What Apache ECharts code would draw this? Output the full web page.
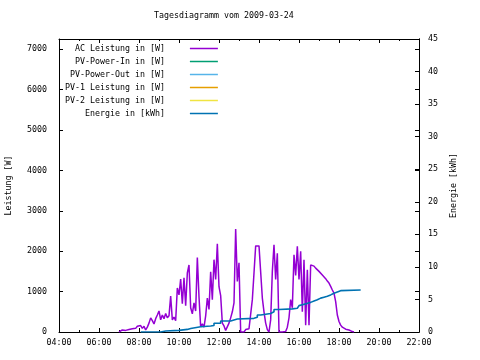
<!DOCTYPE html>
<html>
<head>
<meta charset="utf-8">
<script src="https://cdn.jsdelivr.net/npm/echarts@6/dist/echarts.min.js"></script>
<style>html,body{margin:0;padding:0;background:#fff;}#c{width:480px;height:360px;}</style>
</head>
<body>
<div id="c"></div>
<script>
const titleText = 'Tagesdiagramm vom 2009-03-24';
const seriesNames = ['AC Leistung in [W]', 'PV-Power-In in [W]', 'PV-Power-Out in [W]', 'PV-1 Leistung in [W]', 'PV-2 Leistung in [W]', 'Energie in [kWh]'];
const seriesColors = ['#9400d3', '#009e73', '#56b4e9', '#e69f00', '#f0e442', '#0072b2'];
const xTickLabels = ['04:00','06:00','08:00','10:00','12:00','14:00','16:00','18:00','20:00','22:00'];

const acTimes = ['07:00','07:05','07:10','07:15','07:20','07:25','07:30','07:35','07:40','07:45','07:50','07:55',
'08:00','08:05','08:10','08:15','08:20','08:25','08:30','08:35','08:40','08:45','08:50','08:55',
'09:00','09:05','09:10','09:15','09:20','09:25','09:30','09:35','09:40','09:45','09:50','09:55',
'10:00','10:05','10:10','10:15','10:20','10:25','10:30','10:35','10:40','10:45','10:50','10:55',
'11:00','11:05','11:10','11:15','11:20','11:25','11:30','11:35','11:40','11:45','11:50','11:55',
'12:00','12:05','12:10','12:15','12:20','12:25','12:30','12:35','12:40','12:45','12:50','12:55',
'13:00','13:05','13:10','13:15','13:20','13:25','13:30','13:35','13:40','13:45','13:50','13:55',
'14:00','14:05','14:10','14:15','14:20','14:25','14:30','14:35','14:40','14:45','14:50','14:55',
'15:00','15:05','15:10','15:15','15:20','15:25','15:30','15:35','15:40','15:45','15:50','15:55',
'16:00','16:05','16:10','16:15','16:20','16:25','16:30','16:35','16:40','16:45','16:50','16:55',
'17:00','17:05','17:10','17:15','17:20','17:25','17:30','17:35','17:40','17:45','17:50','17:55',
'18:00','18:05','18:10','18:15','18:20','18:25','18:30','18:35','18:40','18:45'];
const acPower = [0,20,50,30,40,70,60,100,80,120,90,140,
110,160,90,140,50,120,220,350,280,200,330,420,
520,300,420,330,460,350,400,890,300,370,280,1090,
920,1310,700,1340,650,1460,1660,600,450,720,520,1840,
870,130,200,120,400,840,560,1490,800,1790,1300,2180,
1120,900,220,150,40,0,220,350,500,720,2550,1250,
1710,0,30,0,60,20,80,120,800,1460,2130,2160,
2130,2160,840,500,220,60,0,300,1500,2160,1300,1950,
0,20,0,40,10,120,350,800,600,1910,1400,2120,
1300,2000,500,1790,170,1540,170,1660,1680,1630,1580,1540,
1500,1460,1410,1370,1320,1260,1210,1130,1040,960,750,420,
260,170,120,90,70,60,50,30,10,0];

const energyTimes = ['08:05','09:05','09:20','10:00','10:25','10:35','11:05','11:35','11:45','12:05','12:35','12:45','12:55',
'13:45','13:55','14:05','14:35','14:45','15:00','15:40','15:55','16:00','16:05','16:10','16:15','16:25','16:35','16:45','16:55',
'17:05','17:15','17:25','17:35','17:45','17:55','18:05','19:05'];
const energyKWh = [0,0.15,0.25,0.4,0.55,0.8,0.92,1.0,1.35,1.7,1.85,2.0,2.1,
2.25,2.6,2.85,3.1,3.45,3.55,3.65,3.8,4.05,4.2,4.3,4.4,4.55,4.75,4.95,5.2,
5.35,5.5,5.7,5.95,6.15,6.35,6.45,6.45];

function toHours(s){ const p = s.split(':'); return +p[0] + (+p[1])/60; }

const FONT = 'DejaVu Sans Mono';
const FS = 8.3;
const txt = {color:'#000', fontFamily: FONT, fontSize: FS};

const chart = echarts.init(document.getElementById('c'), null, {renderer:'canvas'});

function xAxisCfg(pos, showLabel){
  return {
    type:'value', min:4, max:22, interval:2, position:pos,
    axisLine:{show:true, onZero:false, lineStyle:{color:'#000', width:1}},
    axisTick:{show:true, inside:true, length:4, lineStyle:{color:'#000'}},
    minorTick:{show:true, splitNumber:2, length:2, lineStyle:{color:'#000'}},
    splitLine:{show:false},
    axisLabel:{show:showLabel, margin:7, ...txt,
      formatter: v => xTickLabels[Math.round((v-4)/2)] || ''}
  };
}

const seriesList = seriesNames.map((name, i) => {
  const s = {
    name, type:'line', xAxisIndex:0, yAxisIndex: 0,
    symbol:'none', showSymbol:false, animation:false,
    color: seriesColors[i],
    lineStyle:{color: seriesColors[i], width:1.5},
    data: []
  };
  if (i === 0) s.data = acTimes.map((t, k) => [toHours(t), acPower[k]]);
  if (i === 5) {
    s.yAxisIndex = 1;
    s.step = 'end';
    s.lineStyle.width = 1.6;
    s.data = energyTimes.map((t, k) => [toHours(t), energyKWh[k]]);
  }
  return s;
});

chart.setOption({
  animation:false,
  backgroundColor:'#fff',
  title:{text:titleText, left:154, top:12, padding:0,
    textStyle:{...txt, fontWeight:'normal'}},
  grid:{left:59, right:61, top:39, bottom:28, outerBoundsMode:'none', containLabel:false},
  legend:{
    orient:'vertical', left:65, top:42, padding:0, align:'right',
    icon:'rect', itemWidth:28, itemHeight:1.5, itemGap:0,
    data: seriesNames,
    formatter: n => n + '    ',
    textStyle:{...txt, lineHeight:13},
    selectedMode:false
  },
  xAxis:[xAxisCfg('bottom', true), xAxisCfg('top', false)],
  yAxis:[
    {type:'value', min:0, max:7250, interval:1000, position:'left',
     name:'Leistung [W]', nameLocation:'middle', nameGap:46, nameRotate:90, nameTextStyle:{...txt},
     axisLine:{show:true, onZero:false, lineStyle:{color:'#000'}},
     axisTick:{show:true, inside:true, length:4, lineStyle:{color:'#000'}},
     splitLine:{show:false},
     axisLabel:{...txt, margin:12, showMaxLabel:false, formatter: v => String(v)}},
    {type:'value', min:0, max:45, interval:5, position:'right',
     name:'Energie [kWh]', nameLocation:'middle', nameGap:31, nameRotate:90, nameTextStyle:{...txt},
     axisLine:{show:true, onZero:false, lineStyle:{color:'#000'}},
     axisTick:{show:true, inside:true, length:4, lineStyle:{color:'#000'}},
     splitLine:{show:false},
     axisLabel:{...txt, margin:9, formatter: v => String(v)}},
    {type:'value', min:0, max:7250, interval:1000, position:'right', offset:0,
     axisLine:{show:true, onZero:false, lineStyle:{color:'#000'}},
     axisTick:{show:true, inside:true, length:4, lineStyle:{color:'#000'}},
     splitLine:{show:false},
     axisLabel:{show:false}}
  ],
  series: seriesList
});
</script>
</body>
</html>
